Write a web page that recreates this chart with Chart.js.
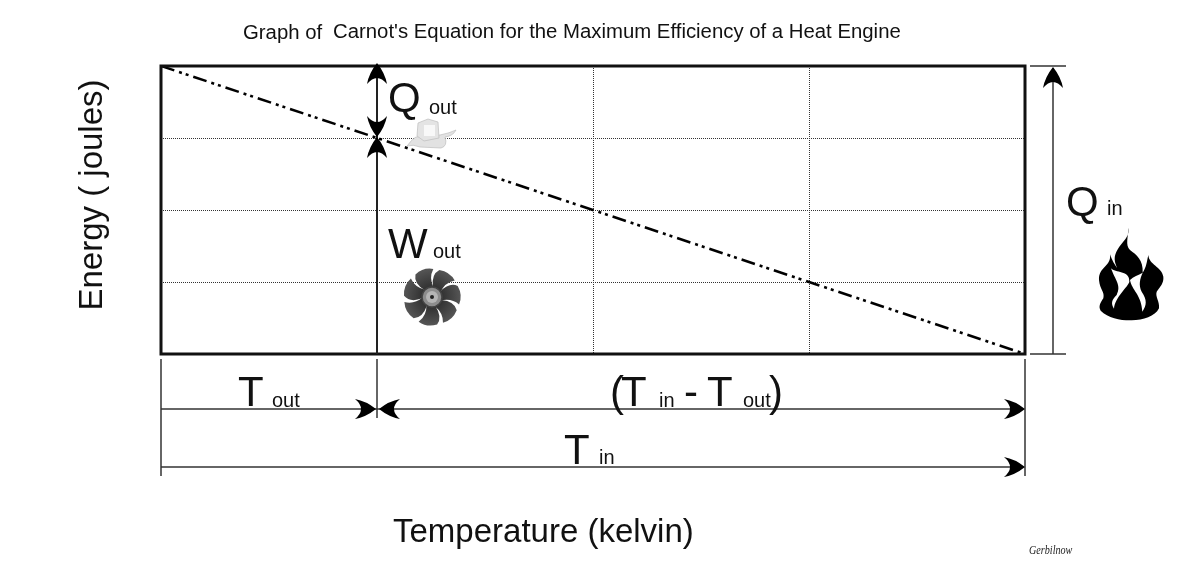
<!DOCTYPE html>
<html><head><meta charset="utf-8">
<style>html,body{margin:0;padding:0;background:#fff}canvas{display:block}</style>
<script src="https://cdn.jsdelivr.net/npm/chart.js@4/dist/chart.umd.min.js"></script>
</head><body>
<canvas id="c" width="1200" height="574"></canvas>
<script>
const temperatureValues = [0, 4];
const energyValues = [4, 0];
const tOutValue = 1;
const tInValue = 4;
const qOutValue = 3;
const titleParts = ["Graph of", "Carnot's Equation for the Maximum Efficiency of a Heat Engine"];
const yAxisTitle = "Energy ( joules)";
const xAxisTitle = "Temperature (kelvin)";
const credit = "Gerbilnow";

const FONT = '"Liberation Sans", Arial, sans-serif';
function txt(c, s, x, y, size) {
  c.font = size + 'px ' + FONT; c.fillStyle = '#111'; c.textAlign = 'left'; c.textBaseline = 'alphabetic';
  c.fillText(s, x, y);
}
function line(c, x1, y1, x2, y2, w, col) {
  c.beginPath(); c.moveTo(x1, y1); c.lineTo(x2, y2); c.lineWidth = w || 1.5; c.strokeStyle = col || '#333'; c.setLineDash([]); c.stroke();
}
// barbed arrowhead; angle = direction of travel
function head(c, x, y, ang) {
  c.save(); c.translate(x, y); c.rotate(ang); c.fillStyle = '#000';
  c.beginPath(); c.moveTo(0, 0); c.quadraticCurveTo(-10, -8, -21, -10);
  c.quadraticCurveTo(-15, -5, -15, 0); c.quadraticCurveTo(-15, 5, -21, 10);
  c.quadraticCurveTo(-10, 8, 0, 0); c.closePath(); c.fill();
  c.restore();
}
function fan(c, cx, cy) {
  c.save(); c.translate(cx, cy);
  const g = c.createRadialGradient(0, 0, 6, 0, 0, 29);
  g.addColorStop(0, '#2a2a2a'); g.addColorStop(1, '#565656');
  for (let i = 0; i < 7; i++) {
    c.save(); c.rotate(i * 2 * Math.PI / 7 + 0.2);
    c.beginPath(); c.moveTo(7, -7);
    c.quadraticCurveTo(14, -18, 23, -16);
    c.quadraticCurveTo(30, -8, 28, 2);
    c.quadraticCurveTo(19, -3, 9, 2);
    c.closePath(); c.fillStyle = g; c.fill();
    c.restore();
  }
  c.beginPath(); c.arc(0, 0, 10, 0, Math.PI * 2); c.fillStyle = '#8d8d8d'; c.fill();
  c.lineWidth = 1.5; c.strokeStyle = '#444'; c.stroke();
  c.beginPath(); c.arc(0, 0, 6, 0, Math.PI * 2); c.fillStyle = '#b5b5b5'; c.fill();
  c.beginPath(); c.arc(0, 0, 2, 0, Math.PI * 2); c.fillStyle = '#222'; c.fill();
  c.restore();
}
function ice(c) {
  c.save();
  c.fillStyle = '#e2e2e2'; c.strokeStyle = '#bdbdbd'; c.lineWidth = 0.7;
  c.beginPath(); c.moveTo(407, 146); c.quadraticCurveTo(412, 139, 416, 137); c.lineTo(440, 135);
  c.quadraticCurveTo(450, 133, 456, 130); c.quadraticCurveTo(453, 136, 445, 137);
  c.quadraticCurveTo(448, 146, 441, 148); c.lineTo(420, 147); c.quadraticCurveTo(413, 144, 407, 146); c.closePath(); c.fill(); c.stroke();
  c.fillStyle = '#e4e4e4';
  c.beginPath(); c.moveTo(418, 123); c.lineTo(428, 119); c.lineTo(438, 122); c.lineTo(439, 138); c.lineTo(424, 141); c.lineTo(417, 136); c.closePath(); c.fill(); c.stroke();
  c.fillStyle = '#f8f8f8'; c.fillRect(424, 125, 11, 11);
  c.restore();
}
function flame(c) {
  c.save(); c.translate(1000, 50); c.scale(1 / 3, 1 / 3); c.fillStyle = '#000';
  c.beginPath(); c.moveTo(385, 533);
  c.bezierCurveTo(392, 570, 345, 585, 344, 628);
  c.bezierCurveTo(344, 640, 350, 650, 352, 655);
  c.bezierCurveTo(345, 645, 335, 630, 330, 613);
  c.bezierCurveTo(335, 650, 295, 650, 297, 690);
  c.bezierCurveTo(300, 720, 315, 725, 310, 745);
  c.bezierCurveTo(300, 760, 295, 770, 302, 782);
  c.bezierCurveTo(325, 805, 365, 812, 395, 811);
  c.bezierCurveTo(430, 810, 465, 800, 477, 775);
  c.bezierCurveTo(480, 755, 465, 740, 470, 725);
  c.bezierCurveTo(480, 710, 492, 700, 490, 680);
  c.bezierCurveTo(485, 650, 447, 645, 445, 615);
  c.bezierCurveTo(440, 635, 440, 650, 428, 668);
  c.bezierCurveTo(430, 630, 410, 615, 390, 600);
  c.bezierCurveTo(375, 585, 385, 560, 385, 533);
  c.closePath(); c.fill();
  c.fillStyle = '#fff';
  c.beginPath(); c.moveTo(333, 655);
  c.bezierCurveTo(345, 670, 390, 660, 388, 695);
  c.bezierCurveTo(385, 710, 345, 740, 342, 776);
  c.bezierCurveTo(332, 760, 335, 750, 350, 735);
  c.bezierCurveTo(365, 705, 345, 690, 333, 655);
  c.closePath(); c.fill();
  c.beginPath(); c.moveTo(390, 690);
  c.bezierCurveTo(395, 720, 425, 735, 427, 785);
  c.bezierCurveTo(440, 765, 442, 750, 425, 725);
  c.bezierCurveTo(415, 705, 420, 685, 428, 668);
  c.bezierCurveTo(415, 675, 400, 680, 390, 690);
  c.closePath(); c.fill();
  c.restore();
}

const annotations = {
  id: 'annotations',
  beforeDatasetsDraw(chart) {
    const c = chart.ctx;
    c.save();
    fan(c, 432, 297);
    ice(c);
    c.restore();
  },
  afterDatasetsDraw(chart) {
    const c = chart.ctx, a = chart.chartArea, xs = chart.scales.x, ys = chart.scales.y;
    const xOut = xs.getPixelForValue(tOutValue), xIn = xs.getPixelForValue(tInValue);
    const yQ = ys.getPixelForValue(qOutValue);
    const xStart = xs.getPixelForValue(0);
    c.save();
    // plot frame
    c.strokeStyle = '#111'; c.lineWidth = 3; c.setLineDash([]);
    c.strokeRect(a.left, a.top, a.right - a.left, a.bottom - a.top);
    // Q out / W out marker
    line(c, xOut, a.top, xOut, a.bottom, 2, '#222');
    head(c, xOut, a.top - 3, -Math.PI / 2);
    head(c, xOut, yQ - 1, Math.PI / 2);
    head(c, xOut, yQ - 1, -Math.PI / 2);
    // Q in dimension
    line(c, a.right + 5, a.top, a.right + 41, a.top, 1.5);
    line(c, a.right + 5, a.bottom, a.right + 41, a.bottom, 1.5);
    line(c, a.right + 28, a.top + 2, a.right + 28, a.bottom, 1.5);
    head(c, a.right + 28, a.top + 1, -Math.PI / 2);
    // T dimensions
    const y1 = a.bottom + 55, y2 = a.bottom + 113;
    line(c, xStart, a.bottom + 5, xStart, a.bottom + 122, 1.5);
    line(c, xOut, a.bottom + 5, xOut, a.bottom + 64, 1.5);
    line(c, xIn, a.bottom + 5, xIn, a.bottom + 122, 1.5);
    line(c, xStart, y1, xIn - 5, y1, 1.5);
    line(c, xStart, y2, xIn - 5, y2, 1.5);
    head(c, xOut - 1, y1, 0);
    head(c, xOut + 2, y1, Math.PI);
    head(c, xIn, y1, 0);
    head(c, xIn, y2, 0);
    // text
    txt(c, titleParts[0], 243, 39, 20.35);
    txt(c, titleParts[1], 333, 38, 20.35);
    txt(c, xAxisTitle, 393, 542, 33);
    c.save(); c.translate(102, 195); c.rotate(-Math.PI / 2); c.textAlign = 'center';
    c.font = '33px ' + FONT; c.fillStyle = '#111'; c.fillText(yAxisTitle, 0, 0); c.restore();
    txt(c, 'Q', 388, 112, 42); txt(c, 'out', 429, 114, 20);
    txt(c, 'W', 388, 258, 42); txt(c, 'out', 433, 258, 20);
    txt(c, 'Q', 1066, 216, 42); txt(c, 'in', 1107, 215, 20);
    txt(c, 'T', 238, 406, 42); txt(c, 'out', 272, 407, 20);
    txt(c, '(', 610, 406, 42); txt(c, 'T', 621, 406, 42); txt(c, 'in', 659, 407, 20);
    txt(c, '-', 684, 406, 42); txt(c, 'T', 707, 406, 42); txt(c, 'out', 743, 407, 20); txt(c, ')', 769, 406, 42);
    txt(c, 'T', 564, 464, 42); txt(c, 'in', 599, 464, 20);
    c.save(); c.translate(1029, 554); c.scale(0.78, 1);
    c.font = 'italic 13px "Liberation Serif", serif'; c.fillStyle = '#222'; c.fillText(credit, 0, 0); c.restore();
    flame(c);
    c.restore();
  }
};

new Chart(document.getElementById('c'), {
  type: 'line',
  data: {
    datasets: [{
      data: temperatureValues.map((x, i) => ({ x, y: energyValues[i] })),
      borderColor: '#000', borderWidth: 2.5, borderDash: [14, 5, 3, 4, 3, 5],
      pointRadius: 0, fill: false, tension: 0
    }]
  },
  options: {
    responsive: false, animation: false, devicePixelRatio: 1,
    layout: { padding: { left: 161, right: 175, top: 66, bottom: 220 } },
    plugins: { legend: { display: false }, tooltip: { enabled: false } },
    scales: {
      x: {
        type: 'linear', min: 0, max: 4,
        ticks: { display: false, stepSize: 1 },
        border: { display: false, dash: [1, 1] },
        grid: { drawTicks: false, color: '#333', lineWidth: 1, tickLength: 0 },
        title: { display: false }
      },
      y: {
        min: 0, max: 4,
        ticks: { display: false, stepSize: 1 },
        border: { display: false, dash: [1, 1] },
        grid: { drawTicks: false, color: '#333', lineWidth: 1, tickLength: 0 },
        title: { display: false }
      }
    }
  },
  plugins: [annotations]
});
</script>
</body></html>
